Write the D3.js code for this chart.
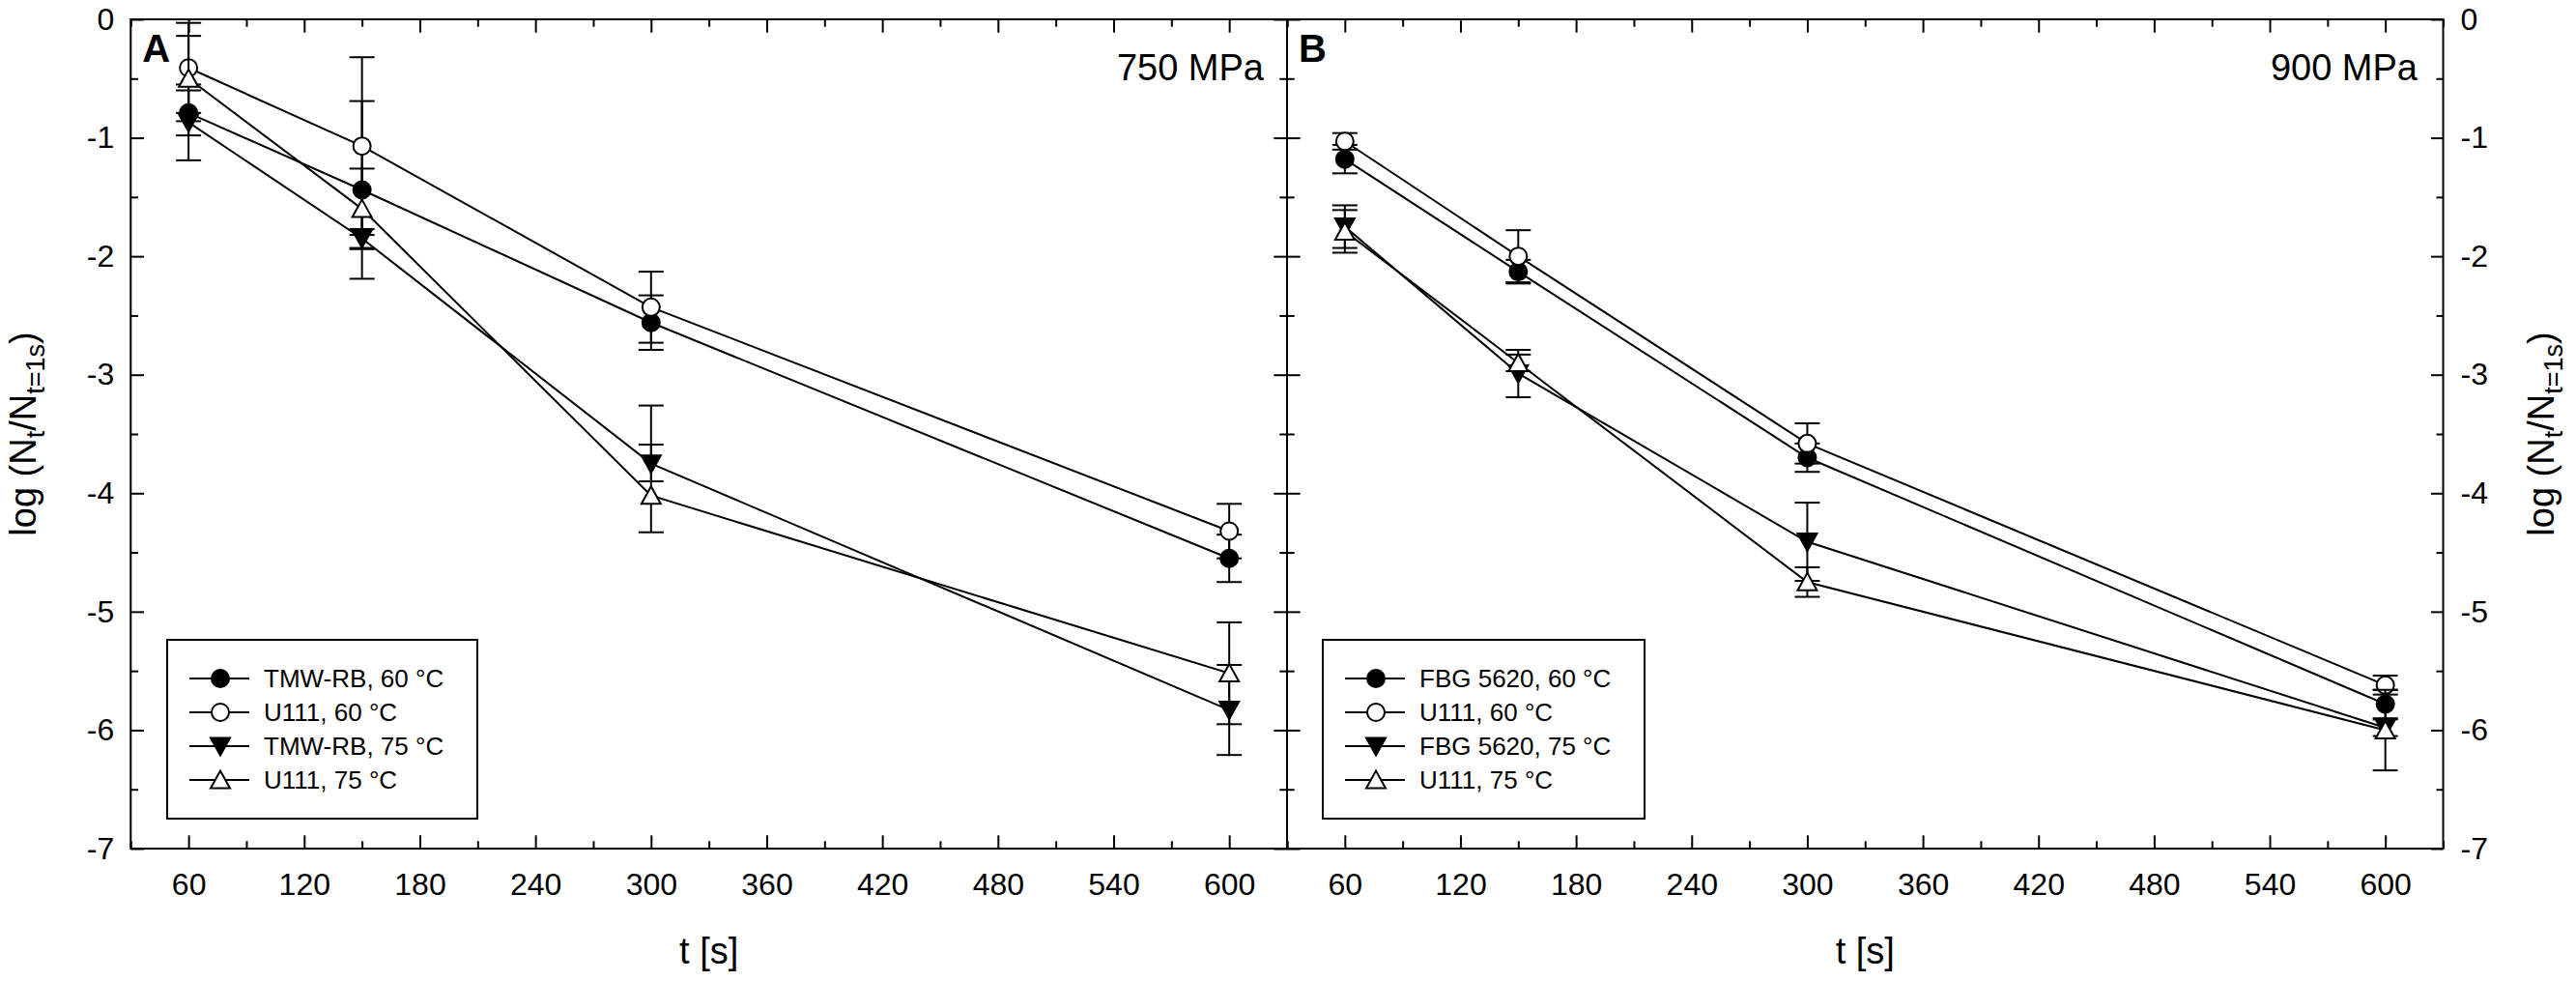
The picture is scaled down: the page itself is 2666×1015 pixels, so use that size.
<!DOCTYPE html>
<html>
<head>
<meta charset="utf-8">
<script src="https://cdn.jsdelivr.net/npm/d3@7"></script>
<style>
  html, body { margin: 0; padding: 0; background: #fff; }
  svg { display: block; }
</style>
</head>
<body>
<div id="chart"></div>
<script>
// ---- data ----
const times = [60, 150, 300, 600];
const xMajor = [60, 120, 180, 240, 300, 360, 420, 480, 540, 600];
const xMinor = [30, 90, 150, 210, 270, 330, 390, 450, 510, 570, 630];
const yMajor = [0, -1, -2, -3, -4, -5, -6, -7];
const yMinor = [-0.5, -1.5, -2.5, -3.5, -4.5, -5.5, -6.5];

// panel A, 750 MPa
const legendA = ["TMW-RB, 60 °C", "U111, 60 °C", "TMW-RB, 75 °C", "U111, 75 °C"];
const tmw60 = [-0.79, -1.44, -2.56, -4.55];
const tmw60Up = [0.19, 0.75, 0.23, 0.20];
const tmw60Dn = [0.19, 0.75, 0.23, 0.20];
const u111A60 = [-0.41, -1.07, -2.43, -4.32];
const u111A60Up = [0.38, 0.75, 0.30, 0.23];
const u111A60Dn = [0.38, 0.75, 0.30, 0.23];
const tmw75 = [-0.87, -1.85, -3.75, -5.83];
const tmw75Up = [0.32, 0.08, 0.49, 0.38];
const tmw75Dn = [0.32, 0.08, 0.15, 0.38];
const u111A75 = [-0.50, -1.60, -4.02, -5.52];
const u111A75Up = [0.36, 0.34, 0.43, 0.43];
const u111A75Dn = [0.36, 0.34, 0.31, 0.43];

// panel B, 900 MPa
const legendB = ["FBG 5620, 60 °C", "U111, 60 °C", "FBG 5620, 75 °C", "U111, 75 °C"];
const fbg60 = [-1.18, -2.13, -3.70, -5.78];
const fbg60Err = [0.12, 0.10, 0.12, 0.12];
const u111B60 = [-1.03, -2.00, -3.58, -5.62];
const u111B60Err = [0.07, 0.22, 0.17, 0.08];
const fbg75 = [-1.75, -2.99, -4.41, -5.98];
const fbg75Err = [0.18, 0.20, 0.33, 0.07];
const u111B75 = [-1.79, -2.90, -4.75, -6.00];
const u111B75Err = [0.18, 0.07, 0.125, 0.34];

const shapes = ["circleFilled", "circleOpen", "triDownFilled", "triUpOpen"];

const FONT = "'Liberation Sans', Arial, sans-serif";
const W = 2666, H = 1015;

const svg = d3.select("#chart").append("svg")
  .attr("width", W).attr("height", H)
  .style("background", "#fff");

const y = d3.scaleLinear().domain([0, -7]).range([20, 878]);

const panels = [
  {
    left: 135.3, right: 1332, letter: "A", pressure: "750 MPa",
    legend: legendA, legendBox: [173, 494],
    series: [
      { v: tmw60, up: tmw60Up, dn: tmw60Dn },
      { v: u111A60, up: u111A60Up, dn: u111A60Dn },
      { v: tmw75, up: tmw75Up, dn: tmw75Dn },
      { v: u111A75, up: u111A75Up, dn: u111A75Dn }
    ]
  },
  {
    left: 1332, right: 2528.5, letter: "B", pressure: "900 MPa",
    legend: legendB, legendBox: [1369, 1702],
    series: [
      { v: fbg60, up: fbg60Err, dn: fbg60Err },
      { v: u111B60, up: u111B60Err, dn: u111B60Err },
      { v: fbg75, up: fbg75Err, dn: fbg75Err },
      { v: u111B75, up: u111B75Err, dn: u111B75Err }
    ]
  }
];

function markerPath(shape) {
  if (shape.startsWith("circle")) {
    return d3.symbol().type(d3.symbolCircle).size(Math.PI * 9 * 9)();
  }
  if (shape === "triDownFilled") return "M0,9.5L10,-8.5L-10,-8.5Z";
  return "M0,-9.5L10,8.5L-10,8.5Z";
}
function drawMarker(g, shape, cx, cy) {
  const filled = shape.endsWith("Filled");
  g.append("path")
    .attr("d", markerPath(shape))
    .attr("transform", `translate(${cx},${cy})`)
    .attr("fill", filled ? "#000" : "#fff")
    .attr("stroke", "#000")
    .attr("stroke-width", 2);
}

function styleAxis(g, size) {
  g.attr("font-family", FONT).attr("font-size", size).attr("color", "#000");
  g.select(".domain").remove();
  g.selectAll("line").attr("stroke-width", 2);
}

panels.forEach((p, pi) => {
  const x = d3.scaleLinear().domain([30, 630]).range([p.left, p.right]);
  const g = svg.append("g");

  // bottom axis
  g.append("g").attr("transform", `translate(0,${y(-7)})`)
    .call(d3.axisBottom(x).tickValues(xMinor).tickSize(-7.7).tickFormat(""))
    .call(a => styleAxis(a, 32));
  g.append("g").attr("transform", `translate(0,${y(-7)})`)
    .call(d3.axisBottom(x).tickValues(xMajor).tickSize(-13.7).tickPadding(25).tickFormat(d => String(d)))
    .call(a => styleAxis(a, 32));
  // top axis
  g.append("g").attr("transform", `translate(0,${y(0)})`)
    .call(d3.axisTop(x).tickValues(xMinor).tickSize(-7.7).tickFormat(""))
    .call(a => styleAxis(a, 32));
  g.append("g").attr("transform", `translate(0,${y(0)})`)
    .call(d3.axisTop(x).tickValues(xMajor).tickSize(-13.7).tickFormat(""))
    .call(a => styleAxis(a, 32));

  // left axis
  g.append("g").attr("transform", `translate(${p.left},0)`)
    .call(d3.axisLeft(y).tickValues(yMinor).tickSize(-7.7).tickFormat(""))
    .call(a => styleAxis(a, 32));
  g.append("g").attr("transform", `translate(${p.left},0)`)
    .call(d3.axisLeft(y).tickValues(yMajor).tickSize(-13.7).tickPadding(17)
      .tickFormat(pi === 0 ? (d => String(d)) : ""))
    .call(a => styleAxis(a, 32));
  // right axis
  g.append("g").attr("transform", `translate(${p.right},0)`)
    .call(d3.axisRight(y).tickValues(yMinor).tickSize(pi === 0 ? -7.7 : -7))
    .call(a => a.selectAll("text").remove())
    .call(a => styleAxis(a, 32));
  g.append("g").attr("transform", `translate(${p.right},0)`)
    .call(d3.axisRight(y).tickValues(yMajor).tickSize(pi === 0 ? -13.7 : -12.5).tickPadding(18)
      .tickFormat(pi === 1 ? (d => String(d)) : ""))
    .call(a => styleAxis(a, 32));

  // frame
  g.append("rect")
    .attr("x", p.left).attr("y", y(0))
    .attr("width", p.right - p.left).attr("height", y(-7) - y(0))
    .attr("fill", "none").attr("stroke", "#000").attr("stroke-width", 2);

  // series
  const line = d3.line().x((d, i) => x(times[i])).y(d => y(d));
  p.series.forEach((s, si) => {
    g.append("path").attr("d", line(s.v))
      .attr("fill", "none").attr("stroke", "#000").attr("stroke-width", 2);
    s.v.forEach((v, i) => {
      const cx = x(times[i]);
      const yHi = y(v + s.up[i]), yLo = y(v - s.dn[i]);
      g.append("line").attr("x1", cx).attr("x2", cx).attr("y1", yHi).attr("y2", yLo)
        .attr("stroke", "#000").attr("stroke-width", 2);
      [yHi, yLo].forEach(yy => {
        g.append("line").attr("x1", cx - 13).attr("x2", cx + 13).attr("y1", yy).attr("y2", yy)
          .attr("stroke", "#000").attr("stroke-width", 2);
      });
    });
    s.v.forEach((v, i) => drawMarker(g, shapes[si], x(times[i]), y(v)));
  });

  // panel letter and pressure
  g.append("text").attr("x", p.left + (pi === 0 ? 12 : 12)).attr("y", 64)
    .attr("font-family", FONT).attr("font-size", 40).attr("font-weight", "bold")
    .text(p.letter);
  g.append("text").attr("x", p.right - (pi === 0 ? 24 : 26.5)).attr("y", 83)
    .attr("font-family", FONT).attr("font-size", 38).attr("text-anchor", "end")
    .text(p.pressure);

  // x title
  g.append("text").attr("x", (p.left + p.right) / 2).attr("y", 997)
    .attr("font-family", FONT).attr("font-size", 38).attr("text-anchor", "middle")
    .text("t [s]");

  // legend
  const [lx0, lx1] = p.legendBox;
  g.append("rect").attr("x", lx0).attr("y", 662).attr("width", lx1 - lx0).attr("height", 185)
    .attr("fill", "#fff").attr("stroke", "#000").attr("stroke-width", 2);
  const rowY = d3.scalePoint().domain(d3.range(4)).range([702, 807]);
  p.legend.forEach((lab, i) => {
    const ry = rowY(i);
    g.append("line").attr("x1", lx0 + 23).attr("x2", lx0 + 85).attr("y1", ry).attr("y2", ry)
      .attr("stroke", "#000").attr("stroke-width", 2);
    drawMarker(g, shapes[i], lx0 + 55, ry);
    g.append("text").attr("x", lx0 + 100).attr("y", ry + 9)
      .attr("font-family", FONT).attr("font-size", 26).text(lab);
  });
});

// y axis titles
function yTitle(xPos) {
  const t = svg.append("text")
    .attr("transform", `translate(${xPos},449) rotate(-90)`)
    .attr("font-family", FONT).attr("font-size", 38).attr("text-anchor", "middle");
  t.append("tspan").text("log (N");
  t.append("tspan").attr("font-size", 27).attr("dy", 9).text("t");
  t.append("tspan").attr("dy", -9).text("/N");
  t.append("tspan").attr("font-size", 27).attr("dy", 9).text("t=1s");
  t.append("tspan").attr("dy", -9).text(")");
}
yTitle(37);
yTitle(2643);
</script>
</body>
</html>
